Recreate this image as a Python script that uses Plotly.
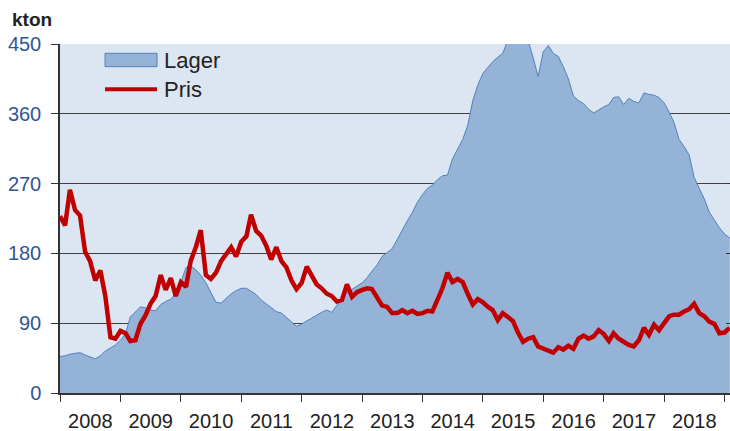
import pandas as pd
import plotly.graph_objects as go

# Monthly dates, Jan 2008 .. Feb 2019
dates = pd.date_range("2008-01-01", periods=134, freq="MS")

lager = [
    47, 48, 50, 51, 52, 49, 47, 44, 48, 54, 58, 62,
    68, 77, 98, 105, 111, 110, 107, 106, 114, 118, 121, 128,
    143, 162, 164, 159, 152, 142, 130, 117, 116, 122, 128, 132,
    135, 135, 131, 127, 120, 115, 109, 105, 103, 97, 91, 86,
    89, 93, 97, 100, 104, 107, 104, 113, 123, 129, 134, 138,
    142, 149, 157, 165, 176, 181, 186, 198, 211, 222, 233, 246,
    256, 264, 268, 275, 280, 281, 302, 315, 327, 345, 377, 397,
    412, 420, 427, 433, 438, 455, 465, 468, 462, 455, 432, 408,
    440, 448, 438, 434, 421, 405, 383, 377, 373, 366, 361, 365,
    369, 372, 381, 382, 372, 380, 376, 374, 387, 385, 384, 381,
    374, 362, 349, 327, 318, 307, 278, 264, 250, 233, 222, 213,
    205, 200,
]

pris = [
    228, 216, 262, 236, 229, 182, 170, 145, 158, 125, 72, 70,
    80, 77, 67, 68, 89, 100, 115, 125, 152, 133, 148, 125,
    143, 137, 170, 188, 210, 152, 147, 155, 170, 178, 188, 176,
    195, 202, 230, 209, 203, 190, 172, 188, 170, 162, 145, 134,
    142, 163, 152, 140, 135, 128, 125, 118, 120, 140, 124, 130,
    133, 135, 134, 124, 113, 111, 103, 103, 107, 103, 106, 102,
    103, 106, 105, 120, 135, 155, 143, 147, 143, 128, 114, 121,
    117, 111, 107, 94, 103, 98, 93, 78, 66, 70, 72, 60,
    57, 55, 52, 59, 56, 61, 57, 70, 74, 70, 73, 81,
    76, 67, 77, 70, 66, 62, 60, 68, 84, 75, 88, 81,
    90, 99, 101, 101, 105, 108, 115, 103, 99, 92, 89, 77,
    78, 84,
]

y_ticks = [0, 90, 180, 270, 360, 450]
series_names = ["Lager", "Pris"]
fill_color = "#95B3D7"
edge_color = "#4F81BD"
red = "#C00000"

fig = go.Figure()
fig.add_trace(go.Scatter(
    x=dates, y=lager, name=series_names[0], mode="lines",
    fill="tozeroy", fillcolor=fill_color,
    line=dict(color=edge_color, width=1), showlegend=False,
))
fig.add_trace(go.Scatter(
    x=dates, y=pris, name=series_names[1], mode="lines",
    line=dict(color=red, width=4.5), showlegend=False,
))
# invisible helper trace for right-side tick marks
fig.add_trace(go.Scatter(x=[dates[0]], y=[0], yaxis="y2", showlegend=False,
                         mode="markers", marker=dict(opacity=0), hoverinfo="skip"))

# manual legend (paper coordinates of the plot area)
shapes = [
    dict(type="rect", xref="paper", yref="paper",
         x0=0.0672, x1=0.1448, y0=0.935, y1=0.9734,
         fillcolor=fill_color, line=dict(color=edge_color, width=1), layer="above"),
    dict(type="line", xref="paper", yref="paper",
         x0=0.0672, x1=0.1448, y0=0.8702, y1=0.8702,
         line=dict(color=red, width=4), layer="above"),
]
annotations = [
    dict(text=series_names[0], xref="paper", yref="paper", x=0.152, y=0.953,
         xanchor="left", yanchor="middle", showarrow=False,
         font=dict(size=22, color="#222222")),
    dict(text=series_names[1], xref="paper", yref="paper", x=0.152, y=0.869,
         xanchor="left", yanchor="middle", showarrow=False,
         font=dict(size=22, color="#222222")),
    dict(text="<b>kton</b>", xref="paper", yref="paper",
         x=-0.074, y=1.0, xanchor="left", yanchor="bottom", yshift=12,
         showarrow=False, font=dict(size=19, color="#222222")),
]

fig.update_layout(
    width=730, height=431,
    margin=dict(l=60, r=0, t=44, b=38, autoexpand=False),
    paper_bgcolor="white",
    plot_bgcolor="#DCE6F2",
    font=dict(family="Liberation Sans, Arial, sans-serif", size=20, color="#222222"),
    showlegend=False,
    shapes=shapes,
    annotations=annotations,
    xaxis=dict(
        type="date", automargin=False,
        range=["2008-01-01", "2019-02-03"],
        dtick="M12", tick0="2008-01-01", tickformat="%Y",
        ticklabelmode="period",
        ticks="outside", ticklen=7, tickwidth=1.3, tickcolor="#333333",
        showline=True, linecolor="#333333", linewidth=1.5,
        showgrid=False, zeroline=False,
        tickfont=dict(size=20, color="#222222"),
        ticklabelstandoff=2,
    ),
    yaxis=dict(
        range=[0, 450], tickvals=y_ticks, automargin=False,
        ticks="outside", ticklen=7, tickwidth=1.3, tickcolor="#333333",
        showline=True, linecolor="#333333", linewidth=1.5,
        showgrid=True, gridcolor="#404040", gridwidth=1.4,
        zeroline=False,
        tickfont=dict(size=20, color="#2F5597"),
        ticklabelstandoff=6,
    ),
    yaxis2=dict(
        overlaying="y", side="right", anchor="x", automargin=False,
        range=[0, 450], tickvals=y_ticks,
        ticks="inside", ticklen=4, tickwidth=1.3, tickcolor="#333333",
        showticklabels=False, showgrid=False, showline=False, zeroline=False,
    ),
)

fig.write_html(
    "out.html",
    config={"displayModeBar": False},
    post_script="document.body.style.margin='0';document.body.style.overflow='hidden';",
)
